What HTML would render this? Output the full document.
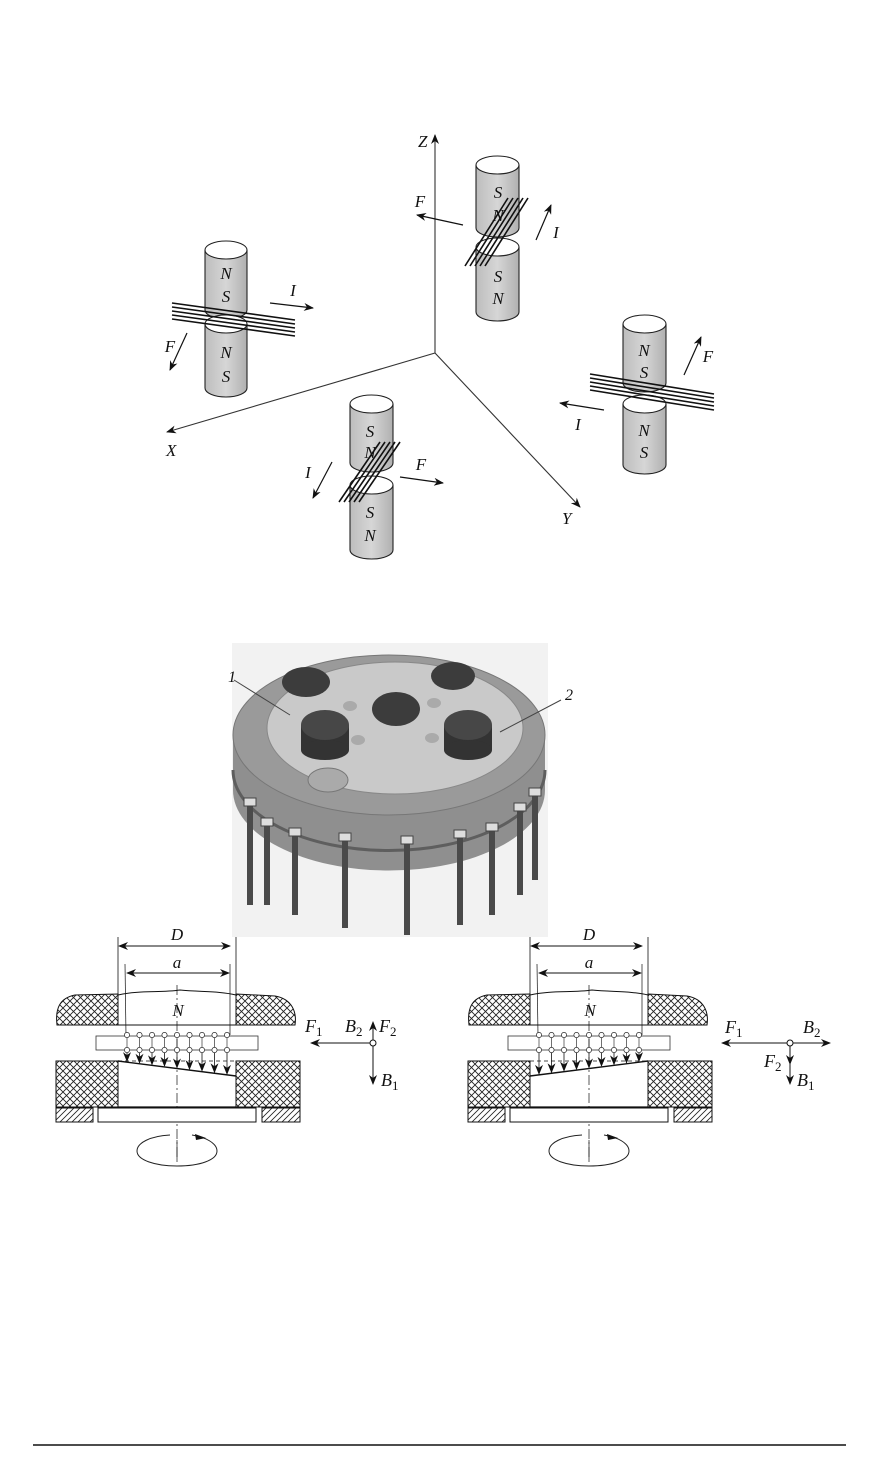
<!DOCTYPE html>
<html><head><meta charset="utf-8"><style>
html,body{margin:0;padding:0;background:#fff}
svg{display:block}
text{font-family:"Liberation Serif",serif;font-style:italic;fill:#111}
</style></head><body>
<svg id="s" width="877" height="1474" viewBox="0 0 877 1474" xmlns="http://www.w3.org/2000/svg">
<defs>
<marker id="ah" markerWidth="10" markerHeight="8" refX="9" refY="4" orient="auto" markerUnits="userSpaceOnUse"><path d="M0,0 L10,4 L0,8 L3,4 Z" fill="#111"/></marker>
<pattern id="xh" width="7" height="7" patternUnits="userSpaceOnUse"><rect width="7" height="7" fill="#fff"/><path d="M0,0L7,7M7,0L0,7" stroke="#222" stroke-width="0.9"/></pattern>
<pattern id="dh" width="6" height="6" patternUnits="userSpaceOnUse"><rect width="6" height="6" fill="#fff"/><path d="M0,6L6,0M-1,1L1,-1M5,7L7,5" stroke="#222" stroke-width="0.8"/></pattern>
<linearGradient id="cyl" x1="0" x2="1"><stop offset="0" stop-color="#bdbdbd"/><stop offset="0.5" stop-color="#d6d6d6"/><stop offset="1" stop-color="#b0b0b0"/></linearGradient>
</defs>
<g id="top" stroke="#222" fill="none"></g>
<!-- axes -->
<g stroke="#333" stroke-width="1.1" fill="none">
<line x1="435" y1="353" x2="435" y2="135" marker-end="url(#ah)"/>
<line x1="435" y1="353" x2="167" y2="432" marker-end="url(#ah)"/>
<line x1="435" y1="353" x2="580" y2="507" marker-end="url(#ah)"/>
</g>
<text x="418" y="147" font-size="17">Z</text>
<text x="166" y="456" font-size="17">X</text>
<text x="562" y="524" font-size="17">Y</text>
<g id="mag"></g>
<!-- device photo -->
<rect x="232" y="643" width="316" height="294" fill="#f2f2f2"/>
<g id="dev"></g>
<g id="low"></g>
<line x1="33" y1="1445" x2="846" y2="1445" stroke="#111" stroke-width="1.5"/>
</svg>
<script>
var NS="http://www.w3.org/2000/svg";
function el(p,t,a,txt){var e=document.createElementNS(NS,t);for(var k in a)e.setAttribute(k,a[k]);if(txt)e.textContent=txt;p.appendChild(e);return e;}
var M=document.getElementById('mag');
function cyl(x1,x2,y1,y2){var cx=(x1+x2)/2,rx=(x2-x1)/2,ry=9;
 el(M,'path',{d:'M'+x1+','+y1+' L'+x1+','+y2+' A'+rx+','+ry+' 0 0 0 '+x2+','+y2+' L'+x2+','+y1,fill:'url(#cyl)',stroke:'#222','stroke-width':1.1});
 el(M,'ellipse',{cx:cx,cy:y1,rx:rx,ry:ry,fill:'#fff',stroke:'#222','stroke-width':1.1});}
function lab(x,y,t,s){el(M,'text',{x:x,y:y,'font-size':s||17,'text-anchor':'middle'},t);}
function arr(x1,y1,x2,y2){el(M,'line',{x1:x1,y1:y1,x2:x2,y2:y2,stroke:'#111','stroke-width':1.2,'marker-end':'url(#ah)'});}
function wires(x1,y1,x2,y2,dx,dy,n){for(var i=0;i<n;i++)el(M,'line',{x1:x1+i*dx,y1:y1+i*dy,x2:x2+i*dx,y2:y2+i*dy,stroke:'#111','stroke-width':1.6});}
// left pair
cyl(205,247,250,310);cyl(205,247,324,388);
wires(172,303,295,320,0,4,5);
lab(226,279,'N');lab(226,302,'S');lab(226,358,'N');lab(226,382,'S');
arr(270,303,313,308);lab(293,296,'I');arr(187,333,170,370);lab(170,352,'F');
// top-right
cyl(476,519,165,228);cyl(476,519,247,312);
wires(465,266,508,198,5,0,5);
lab(498,198,'S');lab(498,221,'N');lab(498,282,'S');lab(498,304,'N');
arr(463,225,417,215);lab(420,207,'F');arr(536,240,551,205);lab(556,238,'I');
// right pair
cyl(623,666,324,383);cyl(623,666,404,465);
wires(590,374,714,394,0,4,5);
lab(644,356,'N');lab(644,378,'S');lab(644,436,'N');lab(644,458,'S');
arr(684,375,701,337);lab(708,362,'F');arr(604,410,560,403);lab(578,430,'I');
// bottom pair
cyl(350,393,404,463);cyl(350,393,485,550);
wires(339,502,380,442,5,0,5);
lab(370,437,'S');lab(370,458,'N');lab(370,518,'S');lab(370,541,'N');
arr(332,462,313,498);lab(308,478,'I');arr(400,477,443,483);lab(421,470,'F');

// device
var D=document.getElementById('dev');
// pins back
var pins=[[250,840,905],[267,860,905],[295,870,915],[345,875,928],[407,878,935],[460,872,925],[492,865,915],[520,845,895],[535,830,880]];
pins.forEach(function(p){el(D,'rect',{x:p[0]-3,y:p[1]-60,width:6,height:p[2]-p[1]+60,fill:'#5a5a5a'});});
// side bands
el(D,'path',{d:'M233,735 L233,790 A155,80 0 0 0 545,790 L545,735 Z',fill:'#8f8f8f'});
el(D,'path',{d:'M233,770 A155,80 0 0 0 545,770',fill:'none',stroke:'#5e5e5e','stroke-width':3});
el(D,'ellipse',{cx:389,cy:735,rx:156,ry:80,fill:'#9a9a9a',stroke:'#777'});
el(D,'ellipse',{cx:395,cy:728,rx:128,ry:66,fill:'#c9c9c9',stroke:'#888'});
pins.forEach(function(p){el(D,'rect',{x:p[0]-3,y:p[1]-40,width:6,height:p[2]-p[1]+40,fill:'#4a4a4a'});el(D,'rect',{x:p[0]-6,y:p[1]-42,width:12,height:8,fill:'#ddd',stroke:'#444'});});
[[306,682,24,15],[453,676,22,14],[396,709,24,17]].forEach(function(c){el(D,'ellipse',{cx:c[0],cy:c[1],rx:c[2],ry:c[3],fill:'#3c3c3c'});});
el(D,'ellipse',{cx:328,cy:780,rx:20,ry:12,fill:'#aaa',stroke:'#777'});
[[325,720],[468,720]].forEach(function(c){el(D,'rect',{x:c[0]-24,y:c[1]+5,width:48,height:25,fill:'#333'});el(D,'ellipse',{cx:c[0],cy:c[1]+30,rx:24,ry:10,fill:'#333'});el(D,'ellipse',{cx:c[0],cy:c[1]+5,rx:24,ry:15,fill:'#474747'});});
[[350,706],[434,703],[358,740],[432,738]].forEach(function(c){el(D,'ellipse',{cx:c[0],cy:c[1],rx:7,ry:5,fill:'#aaa'});});
el(D,'line',{x1:234,y1:680,x2:290,y2:715,stroke:'#444'});
el(D,'text',{x:228,y:682,'font-size':16},'1');
el(D,'line',{x1:561,y1:700,x2:500,y2:732,stroke:'#444'});
el(D,'text',{x:565,y:700,'font-size':16},'2');

// lower diagrams
var L=document.getElementById('low');
function diag(ox,right){var g=el(L,'g',{transform:'translate('+ox+',0)'});
 function ln(a,b,c,d,w,extra){var o={x1:a,y1:b,x2:c,y2:d,stroke:'#111','stroke-width':w||1};for(var k in extra)o[k]=extra[k];return el(g,'line',o);}
 function t(x,y,s,sz){return el(g,'text',{x:x,y:y,'font-size':sz||17,'text-anchor':'middle'},s);}
 ln(118,937,118,995,0.8);ln(236,937,236,995,0.8);
 ln(125,946,230,946,1,{'marker-end':'url(#ah)'});ln(230,946,119,946,1,{'marker-end':'url(#ah)'});
 t(177,940,'D');
 ln(125,964,126,1035,0.7);ln(230,964,230,1035,0.7);
 ln(180,973,127,973,1,{'marker-end':'url(#ah)'});ln(175,973,229,973,1,{'marker-end':'url(#ah)'});
 t(177,968,'a');
 el(g,'path',{d:'M57,1025 C55,1008 60,998 75,995 L118,994 L118,1025 Z',fill:'url(#xh)',stroke:'#111'});
 el(g,'path',{d:'M236,994 L275,996 C292,999 297,1012 295,1025 L236,1025 Z',fill:'url(#xh)',stroke:'#111'});
 el(g,'path',{d:'M118,995 C140,990 160,993 180,990 C200,992 220,991 236,995 M118,1025 L236,1025',fill:'none',stroke:'#111','stroke-width':1});
 ln(57,1025,118,1025,1);ln(236,1025,295,1025,1);
 t(178,1016,'N');
 el(g,'rect',{x:96,y:1036,width:162,height:14,fill:'none',stroke:'#333','stroke-width':0.8});
 ln(177,985,177,1160,0.7,{'stroke-dasharray':'10,3,2,3'});
 for(var i=0;i<9;i++){var x=127+i*12.5;
  el(g,'circle',{cx:x,cy:1035,r:2.6,fill:'#fff',stroke:'#222','stroke-width':0.7});
  el(g,'circle',{cx:x,cy:1050,r:2.6,fill:'#fff',stroke:'#222','stroke-width':0.7});
  ln(x,1038,x,1047,0.6);
  var yb=right?1076-(x-118)/118*15:1061+(x-118)/118*15;
  ln(x,1053,x,yb-1,0.8,{'marker-end':'url(#ah)'});}
 el(g,'path',{d:'M56,1061 L118,1061 L118,1107 L56,1107 Z',fill:'url(#xh)',stroke:'#111'});
 el(g,'path',{d:'M236,1061 L300,1061 L300,1107 L236,1107 Z',fill:'url(#xh)',stroke:'#111'});
 if(right) ln(118,1076,236,1061,1.4); else ln(118,1061,236,1076,1.4);
 ln(118,1061,236,1061,0.8,{'stroke-dasharray':'4,3'});
 el(g,'rect',{x:56,y:1108,width:37,height:14,fill:'url(#dh)',stroke:'#111'});
 el(g,'rect',{x:262,y:1108,width:38,height:14,fill:'url(#dh)',stroke:'#111'});
 el(g,'rect',{x:98,y:1108,width:158,height:14,fill:'#fff',stroke:'#111'});
 ln(118,1107,236,1107,1.2);
 el(g,'path',{d:'M170,1135 C150,1136 137,1143 137,1151 C137,1160 155,1166 177,1166 C200,1166 217,1160 217,1151 C217,1143 205,1137 192,1135',fill:'none',stroke:'#222'});
 el(g,'path',{d:'M195,1134 L206,1138 L196,1140 Z',fill:'#111'});
 ln(177,1140,177,1162,0.7);
 return g;}
var g1=diag(0,false),g2=diag(412,true);
function A(g,a,b,c,d){el(g,'line',{x1:a,y1:b,x2:c,y2:d,stroke:'#111','stroke-width':1,'marker-end':'url(#ah)'});}
function T(g,x,y,s,sub){var e=el(g,'text',{x:x,y:y,'font-size':18},s);var ts=document.createElementNS(NS,'tspan');ts.setAttribute('dy','4');ts.setAttribute('font-size','13');ts.setAttribute('font-style','normal');ts.textContent=sub;e.appendChild(ts);}
// left forces (absolute coords)
A(L,373,1043,311,1043);A(L,373,1043,373,1022);A(L,373,1043,373,1084);
el(L,'circle',{cx:373,cy:1043,r:3,fill:'#fff',stroke:'#111'});
T(L,305,1032,'F','1');T(L,345,1032,'B','2');T(L,379,1032,'F','2');T(L,381,1086,'B','1');
// right forces
A(L,790,1043,722,1043);A(L,790,1043,830,1043);A(L,790,1043,790,1064);A(L,790,1043,790,1084);
el(L,'circle',{cx:790,cy:1043,r:3,fill:'#fff',stroke:'#111'});
T(L,725,1033,'F','1');T(L,803,1033,'B','2');T(L,764,1067,'F','2');T(L,797,1086,'B','1');
</script>
</body></html>
